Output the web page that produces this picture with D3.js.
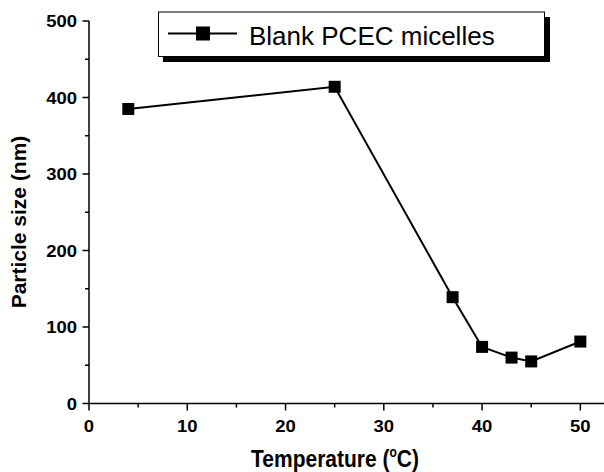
<!DOCTYPE html>
<html>
<head>
<meta charset="utf-8">
<script src="https://cdn.jsdelivr.net/npm/d3@7"></script>
<style>
  body { margin: 0; background: #fff; }
  svg { display: block; font-family: Arial, "Liberation Sans", sans-serif; }
</style>
</head>
<body>
<svg id="chart" width="604" height="472"></svg>
<script>
// data
var temperature = [4, 25, 37, 40, 43, 45, 50];
var particleSize = [385, 414, 139, 74, 60, 55, 81];
var xTicks = [0, 10, 20, 30, 40, 50];
var yTicks = [0, 100, 200, 300, 400, 500];
var seriesName = "Blank PCEC micelles";

var svg = d3.select("#chart");

var x = d3.scaleLinear().domain([0, 52]).range([89, 600]);
var y = d3.scaleLinear().domain([0, 500]).range([403.5, 21]);

// x axis
var xAxis = svg.append("g").attr("transform", "translate(0," + y(0) + ")");
xAxis.append("line")
    .attr("x1", x(0)).attr("x2", 604)
    .attr("stroke", "#000").attr("stroke-width", 1.5);
xAxis.selectAll(".minor").data(d3.range(5, 55, 10)).enter().append("line")
    .attr("x1", d => x(d)).attr("x2", d => x(d))
    .attr("y1", 0).attr("y2", 4)
    .attr("stroke", "#000").attr("stroke-width", 1.5);
xAxis.selectAll(".major").data(xTicks).enter().append("line")
    .attr("x1", d => x(d)).attr("x2", d => x(d))
    .attr("y1", 0).attr("y2", 7)
    .attr("stroke", "#000").attr("stroke-width", 1.5);
xAxis.selectAll("text").data(xTicks).enter().append("text")
    .attr("transform", d => "translate(" + x(d) + ",28.5) scale(1.12,1)")
    .attr("text-anchor", "middle")
    .attr("font-size", 16.5).attr("font-weight", "bold")
    .text(d => d);

// y axis
var yAxis = svg.append("g").attr("transform", "translate(" + x(0) + ",0)");
yAxis.append("line")
    .attr("y1", y(0)).attr("y2", y(500))
    .attr("stroke", "#000").attr("stroke-width", 1.5);
yAxis.selectAll(".minor").data(d3.range(50, 500, 100)).enter().append("line")
    .attr("y1", d => y(d)).attr("y2", d => y(d))
    .attr("x1", 0).attr("x2", -4)
    .attr("stroke", "#000").attr("stroke-width", 1.5);
yAxis.selectAll(".major").data(yTicks).enter().append("line")
    .attr("y1", d => y(d)).attr("y2", d => y(d))
    .attr("x1", 0).attr("x2", -6.5)
    .attr("stroke", "#000").attr("stroke-width", 1.5);
yAxis.selectAll("text").data(yTicks).enter().append("text")
    .attr("transform", d => "translate(-12," + (y(d) + 6) + ") scale(1.12,1)")
    .attr("text-anchor", "end")
    .attr("font-size", 16.5).attr("font-weight", "bold")
    .text(d => d);

// axis titles
var xTitle = svg.append("text")
    .attr("transform", "translate(335,467) scale(1,1.15)")
    .attr("text-anchor", "middle")
    .attr("font-size", 21).attr("font-weight", "bold");
xTitle.append("tspan").text("Temperature (");
xTitle.append("tspan").attr("dy", -9).attr("font-size", 12).text("o");
xTitle.append("tspan").attr("dy", 9).text("C)");

svg.append("text")
    .attr("transform", "translate(26,222) rotate(-90)")
    .attr("text-anchor", "middle")
    .attr("font-size", 21).attr("font-weight", "bold")
    .text("Particle size (nm)");

// series
var pts = temperature.map((t, i) => [t, particleSize[i]]);
svg.append("path")
    .datum(pts)
    .attr("fill", "none")
    .attr("stroke", "#000")
    .attr("stroke-width", 2)
    .attr("d", d3.line().x(d => x(d[0])).y(d => y(d[1])));

var sq = 12;
svg.selectAll(".pt").data(pts).enter().append("rect")
    .attr("x", d => x(d[0]) - sq / 2)
    .attr("y", d => y(d[1]) - sq / 2)
    .attr("width", sq).attr("height", sq)
    .attr("fill", "#000");

// legend with drop shadow
var legend = svg.append("g");
legend.append("rect")
    .attr("x", 163).attr("y", 17)
    .attr("width", 387).attr("height", 45)
    .attr("fill", "#000");
legend.append("rect")
    .attr("x", 158.5).attr("y", 12)
    .attr("width", 386).attr("height", 44.5)
    .attr("fill", "#fff").attr("stroke", "#000").attr("stroke-width", 1);
legend.append("line")
    .attr("x1", 168).attr("x2", 237)
    .attr("y1", 33.5).attr("y2", 33.5)
    .attr("stroke", "#000").attr("stroke-width", 2);
legend.append("rect")
    .attr("x", 196).attr("y", 26.5)
    .attr("width", 14).attr("height", 14)
    .attr("fill", "#000");
legend.append("text")
    .attr("x", 249).attr("y", 44.5)
    .attr("font-size", 26)
    .text(seriesName);
</script>
</body>
</html>
